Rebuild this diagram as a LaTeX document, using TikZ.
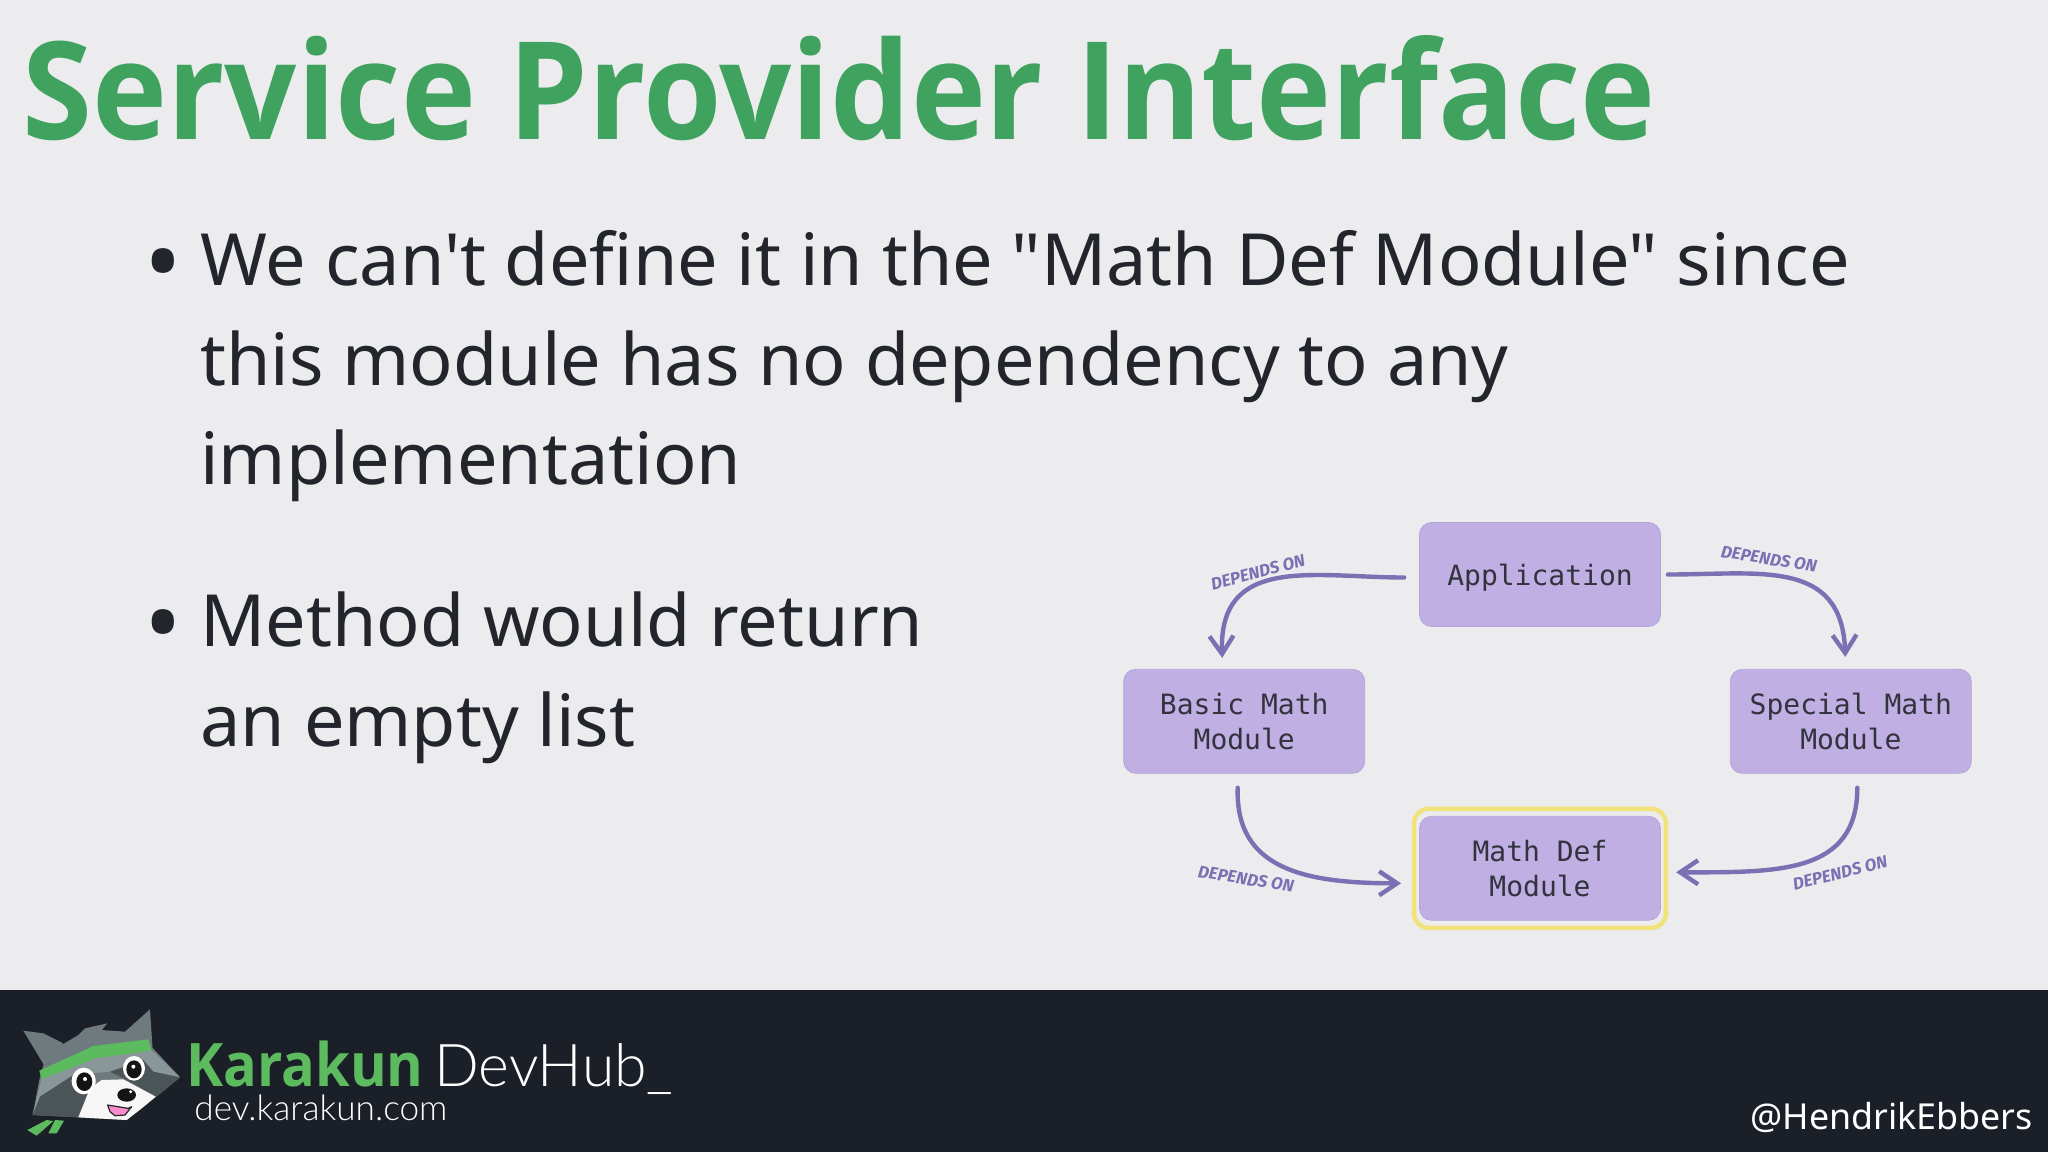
\documentclass[tikz,border=0pt]{standalone}
\usepackage{fontspec}
\usepackage{tikz}
\usetikzlibrary{positioning,fit,arrows.meta}
\newfontfamily\slidefont{Noto Sans}
\newfontfamily\titlefont{Open Sans}[FakeStretch=0.933]
\newfontfamily\lightfont{Lato Light}
\newfontfamily\boxfont{DejaVu Sans Mono}
\newfontfamily\handfont{Fira Sans}
\definecolor{slidebg}{HTML}{ECECEE}
\definecolor{barbg}{HTML}{1B1F28}
\definecolor{titlegreen}{HTML}{3FA35F}
\definecolor{bodyink}{HTML}{22252C}
\definecolor{boxfill}{HTML}{BFAFE3}
\definecolor{boxedge}{HTML}{B5A6D8}
\definecolor{arrowink}{HTML}{7C6FB3}
\definecolor{ringyellow}{HTML}{F2E27A}
\definecolor{logogreen}{HTML}{5DBB5F}
\definecolor{logogray}{HTML}{6E7A7D}
\definecolor{logolight}{HTML}{8A979A}
\definecolor{logodark}{HTML}{4B5558}

\begin{document}
\begin{tikzpicture}[x=0.5pt,y=-0.5pt,>={Straight Barb[length=9pt,width=12pt]},
    module/.style={draw=boxedge,fill=boxfill,rounded corners=6pt,minimum width=120.5pt,minimum height=52pt,
      align=center,inner sep=0pt,font=\boxfont\fontsize{14}{17.5}\selectfont,text=bodyink!90!boxfill},
    dep/.style={draw=arrowink,line width=2.2pt,line cap=round},
    deplabel/.style={inner sep=0pt,text=arrowink,font=\handfont\bfseries\itshape\fontsize{8.5}{9}\selectfont},
    bullet/.style={anchor=base west,inner sep=0pt,text=bodyink,font=\slidefont\fontsize{36}{36}\selectfont},
    bulletdot/.style={anchor=base,inner sep=0pt,text=bodyink,font=\slidefont\fontsize{50}{50}\selectfont},
    logopart/.style={line join=round}]
  \useasboundingbox (0,0) rectangle (2048,1152);
  \fill[slidebg] (0,0) rectangle (2048,1152);
  \fill[barbg] (0,990) rectangle (2048,1152);

  \node[anchor=base west,inner sep=0pt,text=titlegreen,font=\titlefont\bfseries\fontsize{68}{68}\selectfont] (title) at (22,139) {Service Provider Interface};

  \node[bulletdot] (b1) at (163,297) {•};
  \node[bullet] (l1) at (200,285) {We can't define it in the "Math Def Module" since};
  \node[bullet] (l2) at (200,385) {this module has no dependency to any};
  \node[bullet] (l3) at (200,484) {implementation};
  \node[bulletdot] (b2) at (163,658) {•};
  \node[bullet] (l4) at (200,646) {Method would return};
  \node[bullet] (l5) at (200,746) {an empty list};

  % the four modules
  \node[module,text depth=0pt] (application) at (1540,574.5) {Application};
  \node[module] (basic) [below left=21pt and 27pt of application.south west,anchor=north east] {Basic Math\\Module};
  \node[module] (special) [below right=21pt and 34.5pt of application.south east,anchor=north west] {Special Math\\Module};
  \node[module] (mathdef) [below=94.5pt of application] {Math Def\\Module};
  \node[draw=ringyellow,line width=2.2pt,rounded corners=7pt,inner xsep=2.5pt,inner ysep=3.5pt,fit=(mathdef)] (ring) {};

  \path[->,every edge/.style={dep}]
    ([yshift=-1.5pt]application.west)
    edge [out=180,in=92,looseness=1.25,shorten <=7.5pt] ([xshift=-11pt,yshift=5.5pt]basic.north)
    (application.east)
    edge [out=0,in=92,looseness=1.25,shorten <=3.5pt] ([xshift=-2.75pt,yshift=6pt]special.north)
    ([xshift=-3pt]basic.south)
    edge [out=-92,in=180,looseness=1.25,shorten <=7pt] ([xshift=-9pt,yshift=-7.5pt]mathdef.west)
    ([xshift=3.25pt]special.south)
    edge [out=-90,in=0,looseness=1.25,shorten <=7pt] ([xshift=4pt,yshift=-2pt]ring.east);

  \node[deplabel,rotate=15] (dep1) at (1258,572) {DEPENDS ON};
  \node[deplabel,rotate=-9] (dep2) at (1769,559) {DEPENDS ON};
  \node[deplabel,rotate=-9] (dep3) at (1246,879) {DEPENDS ON};
  \node[deplabel,rotate=14] (dep4) at (1840,873) {DEPENDS ON};

  % footer
  \begin{scope}[shift={(10,1000)},x=0.16667pt,y=-0.16667pt]
    \fill[logopart,logogreen] (52,390) -- (110,360) -- (130,363) -- (80,407) -- cycle;
    \fill[logopart,logogreen] (115,400) -- (135,360) -- (162,362) -- (140,400) -- cycle;
    \fill[logopart,logogray] (40,92) -- (100,100) -- (160,130) -- (125,170) -- (102,195) -- cycle;
    \fill[logopart,logogray] (345,95) -- (420,28) -- (428,150) -- (380,130) -- cycle;
    \fill[logopart,logogray] (100,195) -- (130,150) -- (205,105) -- (225,85) -- (270,75) -- (292,70) -- (275,90) -- (345,95) -- (415,130) -- (510,232) -- (395,325) -- (350,360) -- (205,352) -- (68,345) -- (88,240) -- cycle;
    \fill[logopart,logolight] (95,235) -- (240,175) -- (425,150) -- (510,232) -- (430,215) -- (400,180) -- (300,215) -- (190,225) -- (90,290) -- (68,345) -- cycle;
    \fill[logopart,logodark] (90,290) -- (190,225) -- (240,260) -- (205,352) -- (68,345) -- cycle;
    \fill[logopart,logodark] (300,215) -- (340,235) -- (440,290) -- (510,232) -- (430,215) -- (400,180) -- cycle;
    \fill[logopart,white!93!gray] (205,352) -- (240,265) -- (275,240) -- (340,238) -- (437,290) -- (395,325) -- (350,360) -- cycle;
    \fill[logopart,logogreen] (88,212) -- (250,138) -- (415,118) -- (425,152) -- (255,175) -- (95,238) -- cycle;
    \fill[white] (221,243) ellipse [x radius=36,y radius=40];
    \fill[black!92] (223,245) ellipse [x radius=24,y radius=28];
    \fill[white] (225,237) circle [radius=6];
    \fill[white] (372,205) ellipse [x radius=33,y radius=37];
    \fill[black!92] (372,208) ellipse [x radius=23,y radius=27];
    \fill[white] (370,200) circle [radius=6];
    \fill[black!92] (350,285) ellipse [x radius=28,y radius=20];
    \fill[white] (362,275) circle [radius=5];
    \fill[logopart,draw=black!85,line width=.6pt,fill=magenta!45!white] (293,315) -- (355,325) -- (365,320) -- (345,345) -- (315,347) -- (300,335) -- cycle;
  \end{scope}

  \node[anchor=base west,inner sep=0pt,text=logogreen,font=\titlefont\bfseries\fontsize{30}{30}\selectfont] (karakun) at (186,1086) {Karakun};
  \node[anchor=base west,inner sep=0pt,text=white,font=\lightfont\fontsize{29.5}{30}\selectfont] (devhub) at (434,1086) {DevHub\_};
  \node[anchor=base west,inner sep=0pt,text=white,font=\lightfont\fontsize{17.6}{18}\selectfont] (devurl) at (194,1120) {dev.karakun.com};
  \node[anchor=base east,inner sep=0pt,text=white,font=\slidefont\fontsize{17.9}{18}\selectfont] (handle) at (2033,1129) {@HendrikEbbers};
\end{tikzpicture}
\end{document}
